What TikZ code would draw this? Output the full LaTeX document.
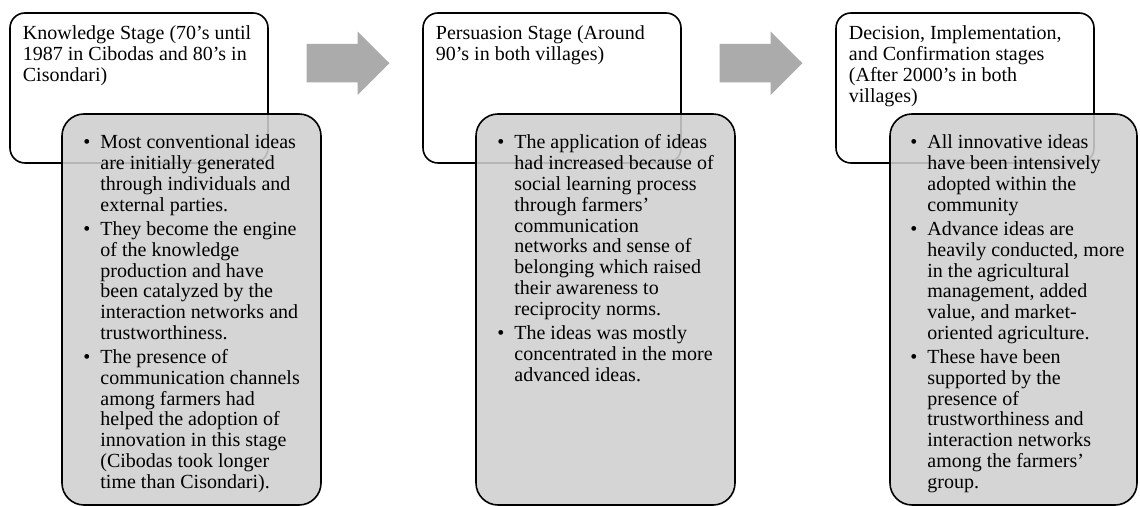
\documentclass[tikz,border=0pt]{standalone}
\usepackage{fontspec}
\setmainfont{Liberation Serif}
\usetikzlibrary{positioning, calc}
\definecolor{ideagray}{RGB}{207,207,207}
\definecolor{arrowgray}{RGB}{171,171,171}
\tikzstyle{stagebox} = [draw, rectangle, rounded corners=7.5pt, line width=0.8pt,
    minimum width=129pt, minimum height=75pt, inner sep=0pt, outer sep=0pt,
    fill=white]
\tikzstyle{ideabox} = [draw, rectangle, rounded corners=11pt, line width=0.8pt,
    fill=ideagray, fill opacity=0.88, minimum width=129.5pt,
    minimum height=195.5pt, inner sep=0pt, outer sep=0pt, anchor=north west]
\tikzstyle{boxtext} = [anchor=base west, inner sep=0pt,
    font=\fontsize{10pt}{10.4pt}\selectfont]
\tikzstyle{blockarrow} = [fill=arrowgray]
\newcommand{\bul}{\makebox[8.5pt][l]{\textbullet}}

\begin{document}
\begin{tikzpicture}[x=0.5pt, y=-0.5pt]
    \useasboundingbox (0,0) rectangle (1140,506);

    % Place the stage boxes
    \node [stagebox, anchor=north west] (know) at (10,13) {};
    \node [stagebox, right=77.5pt of know] (persu) {};
    \node [stagebox, right=77.5pt of persu] (decide) {};

    % Place the idea boxes
    \node [ideabox] (knowideas) at ($(know.north west)+(52,101)$) {};
    \node [ideabox] (persuideas) at ($(persu.north west)+(53,101)$) {};
    \node [ideabox, minimum width=123.5pt] (decideideas) at ($(decide.north west)+(54,101)$) {};

    % Arrows between the stages
    \foreach \from in {know, persu}
      \fill [blockarrow] ($(\from.north east)+(38.5,31)$) -- ++(51,0) -- ++(0,-12.5)
        -- ++(32,31.75) -- ++(-32,31.75) -- ++(0,-12.5) -- ++(-51,0) -- cycle;

    % Stage titles
    \node [boxtext] (knowtitle) at ($(know.north west)+(12.5,27)$) {%
      \begin{tabular}[t]{@{}l@{}}
        Knowledge Stage (70's until\\
        1987 in Cibodas and 80's in\\
        Cisondari)
      \end{tabular}};
    \node [boxtext] (persutitle) at ($(persu.north west)+(12.5,27)$) {%
      \begin{tabular}[t]{@{}l@{}}
        Persuasion Stage (Around\\
        90's in both villages)
      \end{tabular}};
    \node [boxtext] (decidetitle) at ($(decide.north west)+(12.5,27)$) {%
      \begin{tabular}[t]{@{}l@{}}
        Decision, Implementation,\\
        and Confirmation stages\\
        (After 2000's in both\\
        villages)
      \end{tabular}};

    % Ideas of each stage
    \node [boxtext] (knowtext) at ($(knowideas.north west)+(21,35)$) {%
      \begin{tabular}[t]{@{}l@{}l@{}}
        \bul & Most conventional ideas\\
             & are initially generated\\
             & through individuals and\\
             & external parties.\\[1.65pt]
        \bul & They become the engine\\
             & of the knowledge\\
             & production and have\\
             & been catalyzed by the\\
             & interaction networks and\\
             & trustworthiness.\\[1.65pt]
        \bul & The presence of\\
             & communication channels\\
             & among farmers had\\
             & helped the adoption of\\
             & innovation in this stage\\
             & (Cibodas took longer\\
             & time than Cisondari).
      \end{tabular}};
    \node [boxtext] (persutext) at ($(persuideas.north west)+(21,35)$) {%
      \begin{tabular}[t]{@{}l@{}l@{}}
        \bul & The application of ideas\\
             & had increased because of\\
             & social learning process\\
             & through farmers'\\
             & communication\\
             & networks and sense of\\
             & belonging which raised\\
             & their awareness to\\
             & reciprocity norms.\\[1.65pt]
        \bul & The ideas was mostly\\
             & concentrated in the more\\
             & advanced ideas.
      \end{tabular}};
    \node [boxtext] (decidetext) at ($(decideideas.north west)+(20,35)$) {%
      \begin{tabular}[t]{@{}l@{}l@{}}
        \bul & All innovative ideas\\
             & have been intensively\\
             & adopted within the\\
             & community\\[1.65pt]
        \bul & Advance ideas are\\
             & heavily conducted, more\\
             & in the agricultural\\
             & management, added\\
             & value, and market-\\
             & oriented agriculture.\\[1.65pt]
        \bul & These have been\\
             & supported by the\\
             & presence of\\
             & trustworthiness and\\
             & interaction networks\\
             & among the farmers'\\
             & group.
      \end{tabular}};
\end{tikzpicture}
\end{document}
